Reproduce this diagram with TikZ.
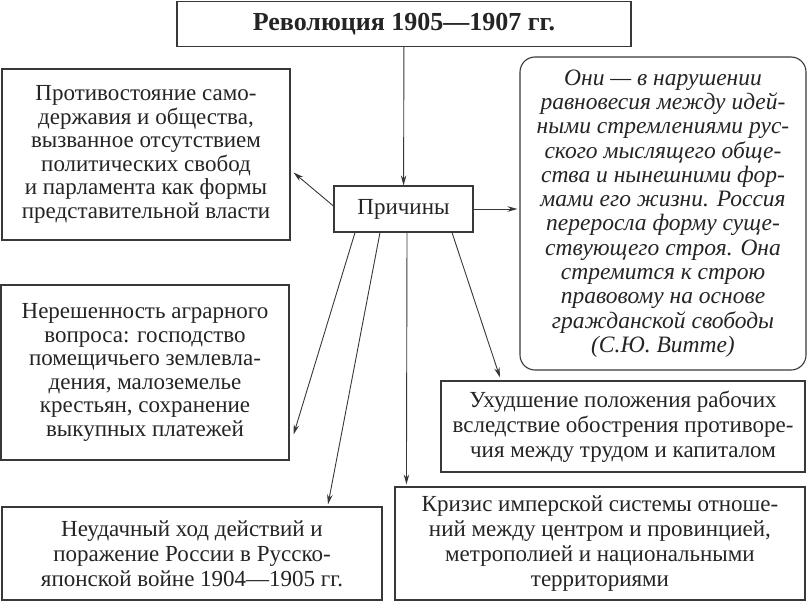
\documentclass[tikz,border=0pt]{standalone}
\usepackage{fontspec}
\setmainfont{Liberation Serif}
\usepackage{tikz}
\usetikzlibrary{arrows, arrows.meta, positioning, calc}
\definecolor{tinta}{HTML}{242424}
\definecolor{trazo}{HTML}{383838}
\tikzset{
  caja/.style={rectangle, draw=trazo, line width=1.1pt, text=tinta, align=center,
               font=\fontsize{23}{23.5}\selectfont, inner sep=2pt},
  cajaancha/.style={caja, font=\fontsize{23}{25}\selectfont},
  cita/.style={rectangle, rounded corners=15pt, draw=trazo, line width=1.1pt, text=tinta, align=center,
               font=\itshape\fontsize{23.5}{24.3}\selectfont, inner sep=2pt},
  titulo/.style={rectangle, draw=trazo, line width=1.1pt, text=tinta, align=center,
                 font=\bfseries\fontsize{26}{28}\selectfont},
  arrow/.style={draw=trazo, line width=0.9pt, -{Stealth[length=10pt,width=5.5pt]}}
}
\begin{document}
\begin{tikzpicture}[x=1pt, y=-1pt]
  \useasboundingbox (0,0) rectangle (808,602);
  \node (tit) [titulo, minimum width=454pt, minimum height=45pt] at (404,24) {Революция 1905—1907 гг.};
  \node (pr) [caja, minimum width=139pt, minimum height=46pt] at (403.5,209) {Причины};
  \node (b1) [caja, minimum width=288pt, minimum height=171pt] at (146,154.5) {Противостояние само-\\державия и общества,\\вызванное отсутствием\\политических свобод\\и парламента как формы\\представительной власти};
  \node (b2) [caja, minimum width=288pt, minimum height=175pt] at (145,372.5) {Нерешенность аграрного\\вопроса: господство\\помещичьего землевла-\\дения, малоземелье\\крестьян, сохранение\\выкупных платежей};
  \node (b3) [cajaancha, minimum width=380pt, minimum height=93pt] at (192,553.5) {Неудачный ход действий и\\поражение России в Русско-\\японской войне 1904—1905 гг.};
  \node (q) [cita, minimum width=286pt, minimum height=313pt] at (663,213.5) {Они — в нарушении\\равновесия между идей-\\ными стремлениями рус-\\ского мыслящего обще-\\ства и нынешними фор-\\мами его жизни. Россия\\переросла форму суще-\\ствующего строя. Она\\стремится к строю\\правовому на основе\\гражданской свободы\\(С.Ю. Витте)};
  \node (b4) [cajaancha, minimum width=364pt, minimum height=91pt] at (623,426.5) {Ухудшение положения рабочих\\вследствие обострения противоре-\\чия между трудом и капиталом};
  \node (b5) [cajaancha, minimum width=410pt, minimum height=113pt] at (600,543.5) {Кризис имперской системы отноше-\\ний между центром и провинцией,\\метрополией и национальными\\территориями};
  \draw [arrow] (tit) -- (pr);
  \draw [arrow] ($(pr.west)+(0,-3)$) -- ($(b1.east)+(3,18)$);
  \draw [arrow, shorten >=2pt] (pr.east) -- (q.west |- pr.east);
  \draw [arrow] ($(pr.south)+(-48.5,0)$) -- ($(b2.east)+(4,62)$);
  \draw [arrow] ($(pr.south)+(-23.5,0)$) -- ($(b3.north)+(136,-2)$);
  \draw [arrow] ($(pr.south)+(3.5,0)$) -- ($(b5.north west)+(12,-2)$);
  \draw [arrow] ($(pr.south)+(48.5,0)$) -- ($(b4.north)+(-123,-3)$);
\end{tikzpicture}
\end{document}
